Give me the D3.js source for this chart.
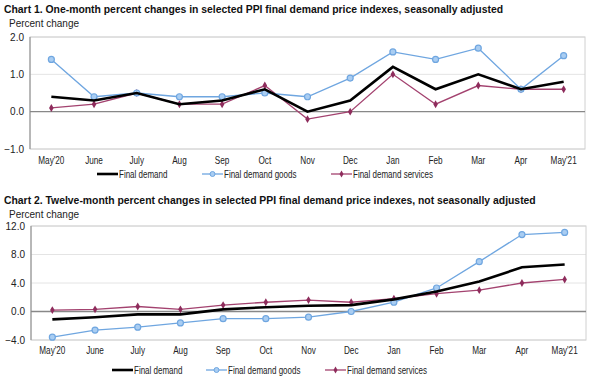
<!DOCTYPE html>
<html>
<head>
<meta charset="UTF-8">
<title>PPI final demand charts</title>
<script src="https://cdnjs.cloudflare.com/ajax/libs/d3/7.8.5/d3.min.js"></script>
<style>
  body { margin: 0; background: #fff; }
  svg { display: block; font-family: "Liberation Sans", Arial, sans-serif; }
  .title { font-weight: bold; font-size: 11px; fill: #111; }
  .sub { font-size: 10px; fill: #222; }
  .tick text { font-size: 10px; fill: #222; }
  .legend text { font-size: 10px; fill: #222; }
</style>
</head>
<body>
<svg id="chart" width="600" height="386"></svg>
<script>
// months on the x axis
var months = ["May'20", "June", "July", "Aug", "Sep", "Oct", "Nov", "Dec", "Jan", "Feb", "Mar", "Apr", "May'21"];

// Chart 1: one-month percent changes
var oneFinal    = [0.4, 0.3, 0.5, 0.2, 0.3, 0.6, 0.0, 0.3, 1.2, 0.6, 1.0, 0.6, 0.8];
var oneGoods    = [1.4, 0.4, 0.5, 0.4, 0.4, 0.5, 0.4, 0.9, 1.6, 1.4, 1.7, 0.6, 1.5];
var oneServices = [0.1, 0.2, 0.5, 0.2, 0.2, 0.7, -0.2, 0.0, 1.0, 0.2, 0.7, 0.6, 0.6];
var oneTicks    = [-1, 0, 1, 2];

// Chart 2: twelve-month percent changes
var twelveFinal    = [-1.1, -0.8, -0.4, -0.4, 0.3, 0.6, 0.8, 0.9, 1.7, 2.8, 4.2, 6.2, 6.6];
var twelveGoods    = [-3.6, -2.6, -2.2, -1.6, -1.0, -1.0, -0.8, 0.0, 1.3, 3.3, 7.0, 10.8, 11.1];
var twelveServices = [0.2, 0.3, 0.7, 0.3, 0.9, 1.3, 1.6, 1.3, 1.8, 2.5, 3.0, 4.0, 4.5];
var twelveTicks    = [-4, 0, 4, 8, 12];

var seriesNames = ["Final demand", "Final demand goods", "Final demand services"];

var svg = d3.select("#chart");

function drawPanel(opt) {
  var g = svg.append("g");

  // title text is a little condensed in the original
  g.append("text").attr("class", "title")
    .attr("transform", "translate(4," + opt.titleY + ") scale(0.945,1)")
    .text(opt.title);
  g.append("text").attr("class", "sub")
    .attr("x", 9).attr("y", opt.titleY + 14).text("Percent change");

  var x = d3.scaleBand().domain(months).range([opt.left, opt.right]);
  var y = d3.scaleLinear().domain(d3.extent(opt.ticks)).range([opt.bottom, opt.top]);

  // gridlines
  g.selectAll(".grid").data(opt.ticks.filter(function(t) { return t !== 0; }))
    .enter().append("line")
    .attr("x1", opt.left).attr("x2", opt.right)
    .attr("y1", function(d) { return y(d); }).attr("y2", function(d) { return y(d); })
    .attr("stroke", "#e4e4e4").attr("stroke-width", 1);

  // plot border
  g.append("rect")
    .attr("x", opt.left).attr("y", opt.top)
    .attr("width", opt.right - opt.left).attr("height", opt.bottom - opt.top)
    .attr("fill", "none").attr("stroke", "#d0d0d0");
  g.append("line")
    .attr("x1", opt.left).attr("x2", opt.left)
    .attr("y1", opt.top).attr("y2", opt.bottom)
    .attr("stroke", "#888");
  g.append("line")
    .attr("x1", opt.left).attr("x2", opt.right)
    .attr("y1", y(0)).attr("y2", y(0))
    .attr("stroke", "#888").attr("stroke-width", 1.3);

  // y axis
  var yAxis = g.append("g").attr("transform", "translate(" + opt.left + ",0)")
    .call(d3.axisLeft(y).tickValues(opt.ticks).tickSize(0).tickPadding(6)
      .tickFormat(d3.format(".1f")));
  yAxis.select(".domain").remove();

  // x axis
  var xAxis = g.append("g").attr("transform", "translate(0," + opt.bottom + ")")
    .call(d3.axisBottom(x).tickSize(0).tickPadding(opt.xPad));
  xAxis.select(".domain").remove();
  xAxis.selectAll(".tick text").attr("transform", "scale(0.82,1)");

  var line = d3.line()
    .x(function(d, i) { return x(months[i]) + x.bandwidth() / 2; })
    .y(function(d) { return y(d); });

  // services
  g.append("path").datum(opt.services)
    .attr("d", line).attr("fill", "none")
    .attr("stroke", "#a3426f").attr("stroke-width", 1.3);
  g.selectAll(".svc").data(opt.services).enter().append("path")
    .attr("transform", function(d, i) {
      return "translate(" + (x(months[i]) + x.bandwidth() / 2) + "," + y(d) + ")";
    })
    .attr("d", d3.symbol(d3.symbolDiamond, 18)())
    .attr("fill", "#8e2c5c");

  // goods
  g.append("path").datum(opt.goods)
    .attr("d", line).attr("fill", "none")
    .attr("stroke", "#6fa6e0").attr("stroke-width", 1.3);
  g.selectAll(".gd").data(opt.goods).enter().append("circle")
    .attr("cx", function(d, i) { return x(months[i]) + x.bandwidth() / 2; })
    .attr("cy", function(d) { return y(d); })
    .attr("r", 3)
    .attr("fill", "#a9cdf2").attr("stroke", "#6fa6e0").attr("stroke-width", 1.2);

  // final demand
  g.append("path").datum(opt.final)
    .attr("d", line).attr("fill", "none")
    .attr("stroke", "#000").attr("stroke-width", 2.6);

  // legend
  var lg = g.append("g").attr("class", "legend");
  opt.legendX.forEach(function(lx, i) {
    var ly = opt.legendY;
    lg.append("line").attr("x1", lx).attr("x2", lx + 21).attr("y1", ly).attr("y2", ly)
      .attr("stroke", ["#000", "#6fa6e0", "#a3426f"][i])
      .attr("stroke-width", i === 0 ? 2.6 : 1.3);
    if (i === 1) {
      lg.append("circle").attr("cx", lx + 10.5).attr("cy", ly).attr("r", 2.5)
        .attr("fill", "#a9cdf2").attr("stroke", "#6fa6e0");
    }
    if (i === 2) {
      lg.append("path").attr("transform", "translate(" + (lx + 10.5) + "," + ly + ")")
        .attr("d", d3.symbol(d3.symbolDiamond, 14)()).attr("fill", "#8e2c5c");
    }
    lg.append("text")
      .attr("transform", "translate(" + (lx + 22) + "," + (ly + 3.5) + ") scale(0.8,1)")
      .text(seriesNames[i]);
  });
}

drawPanel({
  title: "Chart 1. One-month percent changes in selected PPI final demand price indexes, seasonally adjusted",
  titleY: 13, top: 37, bottom: 149, left: 30, right: 585,
  ticks: oneTicks, final: oneFinal, goods: oneGoods, services: oneServices,
  xPad: 8, legendY: 174, legendX: [97, 202, 331]
});

drawPanel({
  title: "Chart 2. Twelve-month percent changes in selected PPI final demand price indexes, not seasonally adjusted",
  titleY: 204, top: 226, bottom: 340, left: 31, right: 586,
  ticks: twelveTicks, final: twelveFinal, goods: twelveGoods, services: twelveServices,
  xPad: 7, legendY: 370, legendX: [112, 206, 325]
});
</script>
</body>
</html>
